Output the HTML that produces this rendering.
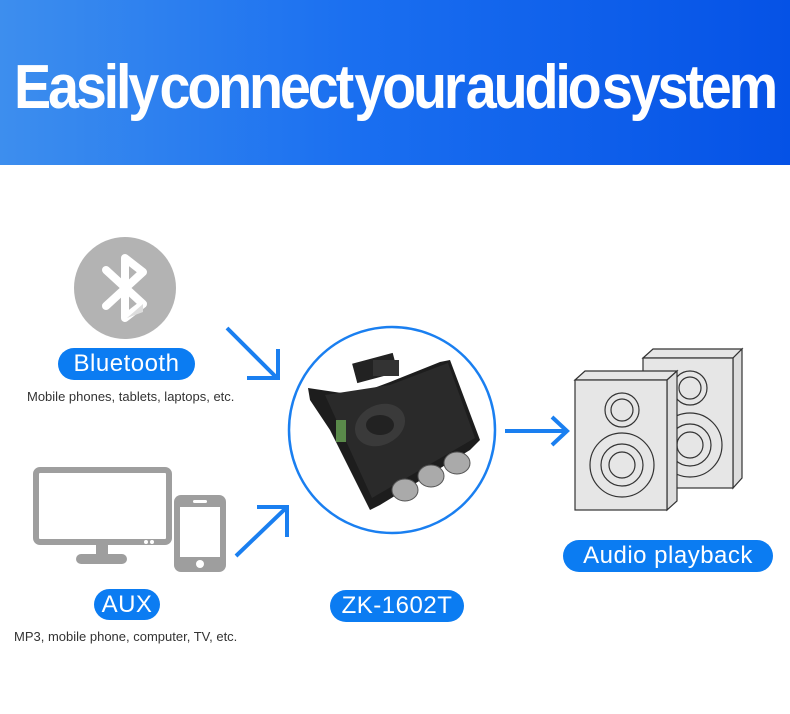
<!DOCTYPE html>
<html><head><meta charset="utf-8"><style>
body{margin:0;width:790px;height:714px;overflow:hidden;background:#fff;font-family:"Liberation Sans",sans-serif;position:relative}
.hdr{position:absolute;left:0;top:0;width:790px;height:165px;background:linear-gradient(90deg,#3d8eee 0%,#1a6ff0 45%,#0552e6 100%)}
.ttl{position:absolute;left:14px;top:52px;color:#fff;font-weight:bold;font-size:62px;letter-spacing:-3.5px;word-spacing:-10px;white-space:nowrap;transform-origin:0 0;transform:scaleX(0.8);display:inline-block}
.pill{position:absolute;background:#0b7cf2;color:#fff;border-radius:16px;text-align:center;font-size:24px;line-height:32px;letter-spacing:0.5px}
.cap{position:absolute;font-size:13px;color:#333;white-space:nowrap}
svg{position:absolute;left:0;top:0}
</style></head><body>
<div class="hdr"></div>
<div class="ttl" id="t">Easily connect your audio system</div>
<script>
(function(){var t=document.getElementById('t');t.style.transform='none';var w=t.getBoundingClientRect().width;t.style.transform='scaleX('+(761/w)+')';})();
</script>
<svg width="790" height="714">
<circle cx="125" cy="288" r="51" fill="#b3b3b3"/>
<path d="M106 270 L143 304 L125 318 L125 258 L143 272 L106 306" fill="none" stroke="#fff" stroke-width="8" stroke-linejoin="round" stroke-linecap="round"/>
<path d="M127 318 L143 304 L143 312 Z" fill="#ddd"/>
<g stroke="#1a7ff0" stroke-width="4" fill="none">
<path d="M227 328 L277 378"/><path d="M278 349 L278 378 L247 378"/>
<path d="M236 556 L286 508"/><path d="M257 507 L287 507 L287 537"/>
<path d="M505 431 L566 431"/><path d="M552 417 L567 431 L552 445"/>
</g>
<rect x="36" y="470" width="133" height="72" rx="4" fill="none" stroke="#9e9e9e" stroke-width="6"/>
<circle cx="146" cy="542" r="2" fill="#fff"/><circle cx="152" cy="542" r="2" fill="#fff"/>
<rect x="96" y="545" width="12" height="12" fill="#9e9e9e"/>
<rect x="76" y="554" width="51" height="10" rx="5" fill="#9e9e9e"/>
<rect x="174" y="495" width="52" height="77" rx="7" fill="#9e9e9e"/>
<rect x="180" y="507" width="40" height="50" fill="#fff"/>
<rect x="193" y="500" width="14" height="3" rx="1.5" fill="#fff"/>
<circle cx="200" cy="564" r="4" fill="#fff"/>
<circle cx="392" cy="430" r="103" fill="none" stroke="#1a7ff0" stroke-width="2.5"/>
<path d="M308 388 L355 395 L390 382 L440 362 L450 360 L480 440 L470 450 L380 505 L370 510 L330 430 L310 400 Z" fill="#1d1d1d"/>
<path d="M325 395 L390 385 L448 363 L475 438 L372 498 Z" fill="#2a2a2a"/>
<rect x="354" y="358" width="42" height="20" fill="#222" transform="rotate(-15 375 368)"/>
<rect x="373" y="360" width="26" height="16" fill="#333"/>
<ellipse cx="380" cy="425" rx="26" ry="20" fill="#3a3a3a" transform="rotate(-25 380 425)"/>
<ellipse cx="380" cy="425" rx="14" ry="10" fill="#222"/>
<rect x="336" y="420" width="10" height="22" fill="#5a8a4a"/>
<g fill="#aaa" stroke="#555">
<ellipse cx="405" cy="490" rx="13" ry="11"/><ellipse cx="431" cy="476" rx="13" ry="11"/><ellipse cx="457" cy="463" rx="13" ry="11"/>
</g>
<g stroke="#333" stroke-width="1.2" fill="#e6e6e6">
<path d="M643 358 L653 349 L742 349 L733 358 Z"/>
<path d="M733 358 L742 349 L742 478 L733 488 Z" fill="#ddd"/>
<rect x="643" y="358" width="90" height="130"/>
<circle cx="690" cy="388" r="17"/><circle cx="690" cy="388" r="11"/>
<circle cx="690" cy="445" r="32"/><circle cx="690" cy="445" r="21"/><circle cx="690" cy="445" r="13"/>
<path d="M575 380 L585 371 L677 371 L667 380 Z"/>
<path d="M667 380 L677 371 L677 501 L667 510 Z" fill="#ddd"/>
<rect x="575" y="380" width="92" height="130"/>
<circle cx="622" cy="410" r="17"/><circle cx="622" cy="410" r="11"/>
<circle cx="622" cy="465" r="32"/><circle cx="622" cy="465" r="21"/><circle cx="622" cy="465" r="13"/>
</g>
</svg>
<div class="pill" style="left:58px;top:348px;width:137px">Bluetooth</div>
<div class="cap" style="left:27px;top:389px">Mobile phones, tablets, laptops, etc.</div>
<div class="pill" style="left:94px;top:589px;width:66px;height:31px">AUX</div>
<div class="cap" style="left:14px;top:629px">MP3, mobile phone, computer, TV, etc.</div>
<div class="pill" style="left:330px;top:590px;width:134px">ZK-1602T</div>
<div class="pill" style="left:563px;top:540px;width:210px">Audio playback</div>
</body></html>
